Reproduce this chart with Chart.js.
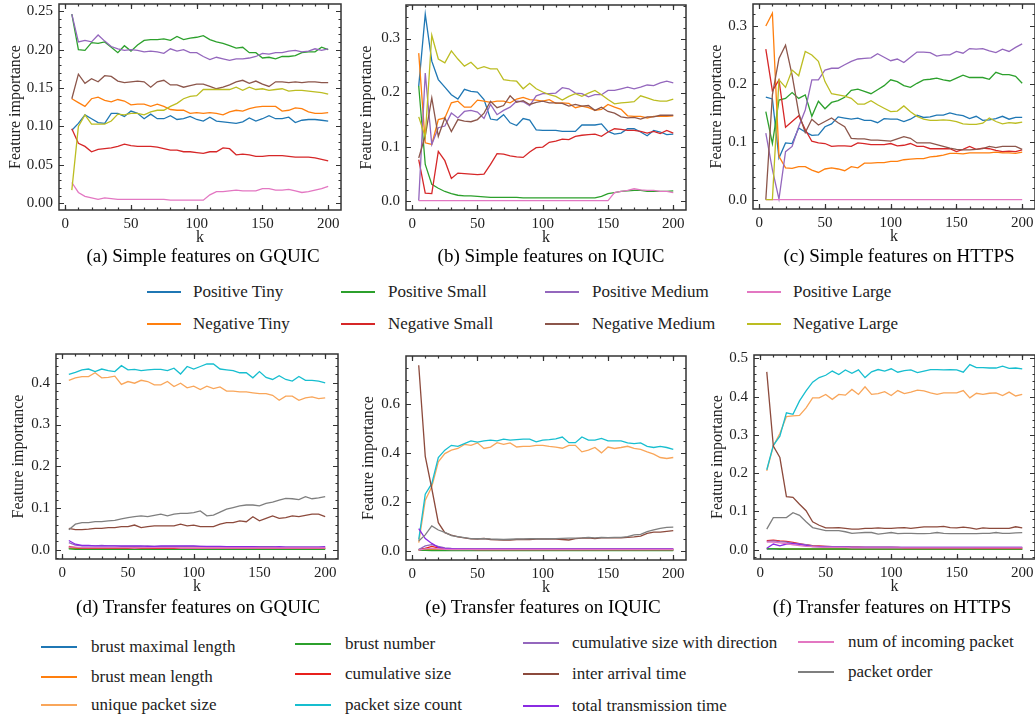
<!DOCTYPE html>
<html>
<head>
<meta charset="utf-8">
<script src="https://cdn.jsdelivr.net/npm/chart.js"></script>
<style>
  body { margin: 0; background: #fff; width: 1035px; height: 719px; position: relative; overflow: hidden;
         font-family: "Liberation Serif", "Times New Roman", serif; color: #111; }
  canvas { position: absolute; }
  .cap { position: absolute; font-size: 19px; white-space: nowrap; transform: translate(-50%, -50%); color: #000; }
  .leg { position: absolute; font-size: 17px; line-height: 20px; white-space: nowrap; color: #222; }
  .sw { position: absolute; height: 2px; }
</style>
</head>
<body>
<script>
// k values (x axis)
const k = [5,10,15,20,25,30,35,40,45,50,55,60,65,70,75,80,85,90,95,100,
           105,110,115,120,125,130,135,140,145,150,155,160,165,170,175,180,185,190,195,200];
const xTicks = [0, 50, 100, 150, 200];
const yTicksA = [0, 0.05, 0.10, 0.15, 0.20, 0.25];
const yTicksB = [0, 0.1, 0.2, 0.3];
const yTicksC = [0, 0.1, 0.2, 0.3];
const yTicksD = [0, 0.1, 0.2, 0.3, 0.4];
const yTicksE = [0, 0.2, 0.4, 0.6];
const yTicksF = [0, 0.1, 0.2, 0.3, 0.4, 0.5];

const simpleNames = ['Positive Tiny', 'Negative Tiny', 'Positive Small', 'Negative Small',
                     'Positive Medium', 'Negative Medium', 'Positive Large', 'Negative Large'];
const simpleColors = ['#1f77b4', '#ff7f0e', '#2ca02c', '#d62728', '#9467bd', '#8c564b', '#e377c2', '#bcbd22'];
const transferNames = ['brust maximal length', 'brust mean length', 'unique packet size',
                       'brust number', 'cumulative size', 'packet size count',
                       'cumulative size with direction', 'inter arrival time', 'total transmission time',
                       'num of incoming packet', 'packet order'];
const transferColors = ['#1f77b4', '#ff7f0e', '#f9a65a', '#2ca02c', '#e8201c', '#17becf',
                        '#9467bd', '#8c4a3c', '#8a2be2', '#e377c2', '#7f7f7f'];

// (a) simple features, GQUIC
const gqPT = [0.095,0.104,0.115,0.110,0.105,0.104,0.117,0.117,0.113,0.120,0.117,0.110,0.116,0.110,0.110,0.114,0.109,0.110,0.113,0.109,0.107,0.112,0.107,0.106,0.105,0.104,0.106,0.111,0.107,0.110,0.114,0.110,0.110,0.112,0.105,0.108,0.109,0.109,0.108,0.107];
const gqNT = [0.136,0.131,0.126,0.136,0.138,0.134,0.132,0.135,0.133,0.128,0.129,0.129,0.126,0.129,0.126,0.122,0.121,0.121,0.117,0.118,0.117,0.118,0.117,0.115,0.119,0.121,0.120,0.123,0.125,0.126,0.126,0.126,0.120,0.121,0.124,0.123,0.119,0.117,0.117,0.118];
const gqPS = [0.246,0.200,0.199,0.209,0.208,0.210,0.203,0.196,0.205,0.198,0.206,0.212,0.213,0.213,0.214,0.212,0.217,0.213,0.215,0.216,0.218,0.213,0.210,0.208,0.205,0.202,0.203,0.196,0.196,0.189,0.190,0.188,0.191,0.191,0.192,0.196,0.197,0.197,0.203,0.200];
const gqNS = [0.097,0.078,0.074,0.067,0.070,0.071,0.072,0.074,0.077,0.075,0.074,0.074,0.074,0.073,0.071,0.069,0.069,0.067,0.067,0.066,0.065,0.067,0.067,0.072,0.071,0.063,0.064,0.063,0.061,0.061,0.062,0.062,0.062,0.061,0.060,0.060,0.060,0.059,0.057,0.055];
const gqPM = [0.246,0.210,0.212,0.210,0.219,0.211,0.204,0.201,0.199,0.200,0.199,0.197,0.198,0.197,0.195,0.201,0.198,0.200,0.196,0.196,0.191,0.187,0.190,0.188,0.186,0.188,0.188,0.189,0.191,0.195,0.194,0.196,0.196,0.198,0.199,0.197,0.198,0.201,0.199,0.201];
const gqNM = [0.136,0.168,0.156,0.162,0.158,0.166,0.165,0.159,0.157,0.158,0.159,0.158,0.151,0.158,0.160,0.154,0.154,0.151,0.153,0.155,0.155,0.152,0.149,0.151,0.154,0.158,0.160,0.156,0.159,0.155,0.152,0.158,0.158,0.157,0.158,0.157,0.158,0.158,0.157,0.157];
const gqPL = [0.027,0.014,0.009,0.007,0.005,0.007,0.006,0.005,0.005,0.005,0.005,0.005,0.005,0.005,0.005,0.004,0.004,0.004,0.004,0.004,0.004,0.011,0.015,0.015,0.016,0.017,0.016,0.016,0.016,0.019,0.019,0.017,0.017,0.018,0.016,0.014,0.015,0.017,0.019,0.022];
const gqNL = [0.017,0.100,0.115,0.103,0.103,0.103,0.107,0.116,0.115,0.117,0.117,0.115,0.119,0.121,0.121,0.126,0.130,0.136,0.139,0.140,0.148,0.148,0.148,0.148,0.148,0.151,0.147,0.151,0.148,0.149,0.147,0.148,0.149,0.146,0.147,0.147,0.146,0.145,0.144,0.142];

// (b) simple features, IQUIC
const iqPT = [0.212,0.345,0.258,0.224,0.210,0.196,0.188,0.206,0.202,0.201,0.187,0.151,0.149,0.159,0.144,0.139,0.152,0.149,0.131,0.130,0.130,0.130,0.128,0.128,0.128,0.140,0.140,0.140,0.142,0.128,0.123,0.125,0.133,0.133,0.127,0.120,0.130,0.127,0.122,0.123];
const iqNT = [0.273,0.107,0.104,0.150,0.153,0.181,0.184,0.173,0.173,0.186,0.184,0.182,0.184,0.184,0.181,0.188,0.191,0.187,0.186,0.184,0.187,0.180,0.181,0.180,0.172,0.175,0.172,0.167,0.169,0.178,0.173,0.169,0.157,0.156,0.156,0.153,0.156,0.156,0.156,0.157];
const iqPS = [0.212,0.067,0.030,0.023,0.017,0.013,0.010,0.009,0.009,0.008,0.007,0.006,0.006,0.006,0.006,0.006,0.005,0.005,0.005,0.005,0.005,0.005,0.005,0.005,0.005,0.005,0.005,0.005,0.008,0.013,0.015,0.017,0.018,0.019,0.019,0.017,0.017,0.017,0.017,0.018];
const iqNS = [0.076,0.014,0.013,0.091,0.074,0.041,0.051,0.050,0.049,0.048,0.049,0.067,0.087,0.086,0.083,0.081,0.080,0.090,0.098,0.099,0.108,0.110,0.114,0.113,0.119,0.121,0.122,0.123,0.119,0.127,0.133,0.132,0.130,0.130,0.128,0.125,0.128,0.124,0.130,0.125];
const iqPM = [0.000,0.236,0.104,0.135,0.138,0.162,0.153,0.165,0.167,0.164,0.152,0.178,0.159,0.167,0.173,0.184,0.183,0.176,0.194,0.198,0.198,0.199,0.209,0.207,0.199,0.198,0.192,0.196,0.196,0.204,0.204,0.207,0.210,0.207,0.210,0.214,0.213,0.218,0.221,0.218];
const iqNM = [0.079,0.120,0.190,0.119,0.153,0.128,0.150,0.147,0.146,0.150,0.162,0.184,0.172,0.176,0.194,0.182,0.185,0.178,0.182,0.184,0.181,0.181,0.180,0.175,0.178,0.175,0.176,0.167,0.173,0.165,0.162,0.155,0.153,0.154,0.151,0.155,0.155,0.158,0.158,0.158];
const iqPL = [0,0,0,0,0,0,0,0,0,0,0,0,0,0,0,0,0,0,0,0,0,0,0,0,0,0,0,0,0,0,0.015,0.017,0.019,0.022,0.020,0.019,0.019,0.017,0.017,0.015];
const iqNL = [0.155,0.118,0.306,0.262,0.255,0.277,0.262,0.249,0.256,0.244,0.248,0.244,0.244,0.224,0.222,0.221,0.207,0.217,0.207,0.201,0.196,0.193,0.186,0.193,0.198,0.193,0.199,0.204,0.196,0.187,0.179,0.181,0.182,0.183,0.194,0.190,0.186,0.184,0.184,0.188];

// (c) simple features, HTTPS
const htPT = [0.177,0.174,0.072,0.098,0.097,0.124,0.117,0.111,0.112,0.126,0.131,0.143,0.141,0.139,0.141,0.137,0.137,0.133,0.140,0.139,0.139,0.135,0.139,0.146,0.142,0.143,0.146,0.146,0.150,0.147,0.145,0.140,0.144,0.137,0.138,0.140,0.144,0.139,0.142,0.142];
const htNT = [0.300,0.322,0.075,0.055,0.054,0.057,0.057,0.051,0.047,0.053,0.055,0.053,0.050,0.057,0.055,0.063,0.063,0.064,0.064,0.066,0.066,0.069,0.070,0.071,0.071,0.074,0.075,0.077,0.080,0.080,0.079,0.081,0.081,0.081,0.081,0.082,0.081,0.081,0.080,0.082];
const htPS = [0.152,0.097,0.172,0.175,0.185,0.175,0.181,0.144,0.170,0.157,0.168,0.171,0.177,0.189,0.191,0.187,0.183,0.190,0.197,0.207,0.204,0.197,0.194,0.201,0.207,0.208,0.210,0.207,0.205,0.210,0.215,0.211,0.211,0.211,0.208,0.220,0.216,0.216,0.213,0.201];
const htNS = [0.260,0.188,0.207,0.125,0.135,0.145,0.121,0.101,0.098,0.097,0.092,0.093,0.093,0.092,0.098,0.097,0.095,0.095,0.095,0.097,0.093,0.094,0.097,0.092,0.092,0.088,0.088,0.088,0.088,0.083,0.087,0.092,0.087,0.089,0.088,0.085,0.083,0.084,0.083,0.086];
const htPM = [0.115,0.052,0.001,0.083,0.092,0.126,0.155,0.207,0.207,0.224,0.227,0.227,0.233,0.239,0.243,0.244,0.245,0.252,0.246,0.240,0.243,0.237,0.246,0.255,0.255,0.254,0.248,0.250,0.250,0.256,0.253,0.261,0.260,0.261,0.257,0.254,0.260,0.256,0.263,0.269];
const htNM = [0.000,0.181,0.244,0.267,0.215,0.150,0.116,0.139,0.129,0.135,0.141,0.133,0.126,0.106,0.105,0.105,0.103,0.103,0.102,0.101,0.105,0.109,0.106,0.098,0.098,0.098,0.095,0.092,0.089,0.087,0.086,0.086,0.087,0.088,0.092,0.090,0.092,0.092,0.092,0.087];
const htPL = [0,0,0,0,0,0,0,0,0,0,0,0,0,0,0,0,0,0,0,0,0,0,0,0,0,0,0,0,0,0,0,0,0,0,0,0,0,0,0,0];
const htNL = [0.000,0.000,0.207,0.194,0.224,0.214,0.256,0.250,0.239,0.204,0.183,0.181,0.179,0.175,0.165,0.165,0.171,0.164,0.158,0.152,0.153,0.162,0.152,0.144,0.139,0.137,0.137,0.138,0.137,0.135,0.131,0.130,0.130,0.132,0.141,0.135,0.131,0.133,0.132,0.134];

// (d) transfer features, GQUIC
const gqtBML = [0.004,0.003,0.003,0.003,0.002,0.002,0.002,0.002,0.002,0.002,0.002,0.002,0.002,0.002,0.002,0.002,0.002,0.002,0.002,0.002,0.002,0.002,0.002,0.002,0.002,0.002,0.002,0.002,0.002,0.002,0.002,0.002,0.002,0.002,0.002,0.002,0.002,0.002,0.002,0.002];
const gqtBMN = [0.004,0.003,0.003,0.003,0.003,0.003,0.003,0.003,0.003,0.003,0.003,0.003,0.003,0.003,0.003,0.003,0.003,0.003,0.003,0.003,0.003,0.003,0.003,0.003,0.003,0.003,0.003,0.003,0.003,0.003,0.003,0.003,0.003,0.003,0.003,0.003,0.003,0.003,0.003,0.003];
const gqtUPS = [0.406,0.412,0.415,0.415,0.424,0.412,0.413,0.416,0.396,0.403,0.399,0.406,0.403,0.395,0.395,0.403,0.391,0.399,0.388,0.392,0.384,0.392,0.386,0.390,0.380,0.380,0.378,0.378,0.376,0.374,0.374,0.370,0.358,0.368,0.368,0.358,0.364,0.366,0.362,0.364];
const gqtBN = [0.002,0.001,0.001,0.001,0.001,0.001,0.001,0.001,0.001,0.001,0.001,0.001,0.001,0.001,0.001,0.001,0.001,0.001,0.001,0.001,0.001,0.001,0.001,0.001,0.001,0.001,0.001,0.001,0.001,0.001,0.001,0.001,0.001,0.001,0.001,0.001,0.001,0.001,0.001,0.001];
const gqtCS = [0.008,0.005,0.004,0.004,0.004,0.004,0.004,0.004,0.004,0.004,0.004,0.004,0.004,0.003,0.003,0.003,0.003,0.003,0.003,0.003,0.003,0.003,0.003,0.003,0.003,0.003,0.003,0.003,0.003,0.003,0.003,0.003,0.003,0.003,0.003,0.003,0.003,0.003,0.003,0.003];
const gqtPSC = [0.420,0.425,0.431,0.433,0.427,0.433,0.429,0.427,0.441,0.431,0.432,0.429,0.431,0.432,0.432,0.429,0.435,0.421,0.439,0.433,0.439,0.445,0.445,0.433,0.431,0.429,0.424,0.424,0.412,0.427,0.413,0.408,0.417,0.408,0.404,0.415,0.406,0.406,0.404,0.400];
const gqtCSD = [0.017,0.011,0.009,0.009,0.009,0.010,0.009,0.009,0.008,0.008,0.008,0.008,0.009,0.008,0.008,0.008,0.008,0.008,0.008,0.008,0.008,0.007,0.007,0.007,0.007,0.007,0.007,0.007,0.007,0.007,0.007,0.007,0.006,0.006,0.006,0.006,0.006,0.006,0.006,0.006];
const gqtIAT = [0.051,0.048,0.048,0.049,0.051,0.051,0.053,0.053,0.055,0.055,0.059,0.053,0.055,0.057,0.057,0.057,0.057,0.061,0.057,0.059,0.055,0.055,0.055,0.061,0.065,0.065,0.069,0.067,0.079,0.069,0.075,0.081,0.075,0.077,0.081,0.079,0.082,0.085,0.085,0.079];
const gqtTTT = [0.022,0.013,0.010,0.010,0.009,0.009,0.009,0.009,0.009,0.009,0.009,0.009,0.008,0.008,0.009,0.009,0.009,0.009,0.009,0.009,0.008,0.008,0.008,0.008,0.007,0.007,0.007,0.007,0.007,0.006,0.006,0.006,0.007,0.006,0.006,0.006,0.006,0.006,0.006,0.007];
const gqtNIP = [0.006,0.006,0.005,0.005,0.005,0.005,0.005,0.005,0.005,0.005,0.004,0.005,0.005,0.005,0.005,0.005,0.005,0.004,0.004,0.004,0.004,0.004,0.004,0.004,0.004,0.004,0.004,0.004,0.004,0.004,0.004,0.004,0.004,0.004,0.004,0.004,0.004,0.004,0.004,0.004];
const gqtPO = [0.048,0.061,0.065,0.065,0.067,0.067,0.069,0.070,0.074,0.077,0.079,0.081,0.079,0.082,0.085,0.081,0.085,0.087,0.087,0.089,0.093,0.081,0.083,0.090,0.097,0.101,0.105,0.107,0.107,0.105,0.111,0.114,0.119,0.123,0.122,0.120,0.127,0.122,0.124,0.127];

// (e) transfer features, IQUIC
const iqtBML = [0.005,0.010,0.006,0.004,0.003,0.003,0.002,0.002,0.002,0.002,0.002,0.002,0.002,0.002,0.002,0.002,0.002,0.002,0.002,0.002,0.002,0.002,0.002,0.002,0.002,0.002,0.002,0.002,0.002,0.002,0.002,0.002,0.002,0.002,0.002,0.002,0.002,0.002,0.002,0.002];
const iqtBMN = [0.004,0.006,0.005,0.004,0.003,0.003,0.003,0.003,0.003,0.003,0.003,0.003,0.003,0.003,0.003,0.003,0.003,0.003,0.003,0.003,0.003,0.003,0.003,0.003,0.003,0.003,0.003,0.003,0.003,0.003,0.003,0.003,0.003,0.003,0.003,0.003,0.003,0.003,0.003,0.003];
const iqtUPS = [0.033,0.207,0.262,0.364,0.398,0.412,0.419,0.436,0.432,0.442,0.419,0.425,0.443,0.436,0.442,0.425,0.428,0.428,0.432,0.432,0.428,0.425,0.420,0.432,0.432,0.405,0.412,0.423,0.401,0.425,0.419,0.423,0.428,0.419,0.415,0.405,0.396,0.382,0.378,0.382];
const iqtBN = [0.002,0.002,0.001,0.001,0.001,0.001,0.001,0.001,0.001,0.001,0.001,0.001,0.001,0.001,0.001,0.001,0.001,0.001,0.001,0.001,0.001,0.001,0.001,0.001,0.001,0.001,0.001,0.001,0.001,0.001,0.001,0.001,0.001,0.001,0.001,0.001,0.001,0.001,0.001,0.001];
const iqtCS = [0.003,0.010,0.018,0.012,0.008,0.007,0.006,0.006,0.006,0.005,0.005,0.005,0.005,0.005,0.005,0.005,0.005,0.005,0.005,0.005,0.005,0.005,0.005,0.005,0.005,0.005,0.005,0.005,0.005,0.005,0.005,0.005,0.005,0.005,0.005,0.005,0.005,0.005,0.005,0.005];
const iqtPSC = [0.046,0.232,0.275,0.382,0.412,0.432,0.428,0.439,0.450,0.445,0.450,0.453,0.450,0.457,0.453,0.455,0.457,0.457,0.446,0.453,0.455,0.458,0.466,0.443,0.443,0.466,0.453,0.453,0.460,0.450,0.450,0.450,0.442,0.439,0.442,0.428,0.423,0.428,0.423,0.415];
const iqtCSD = [0.005,0.020,0.025,0.018,0.012,0.010,0.009,0.009,0.008,0.008,0.008,0.008,0.008,0.008,0.008,0.007,0.007,0.007,0.007,0.007,0.007,0.007,0.007,0.007,0.007,0.007,0.007,0.007,0.007,0.007,0.007,0.007,0.007,0.007,0.007,0.007,0.007,0.007,0.007,0.007];
const iqtIAT = [0.760,0.387,0.255,0.115,0.074,0.064,0.057,0.053,0.049,0.048,0.050,0.046,0.045,0.044,0.044,0.046,0.046,0.046,0.048,0.048,0.048,0.048,0.046,0.044,0.050,0.052,0.053,0.050,0.053,0.053,0.053,0.053,0.055,0.057,0.060,0.071,0.076,0.076,0.079,0.082];
const iqtTTT = [0.091,0.050,0.030,0.014,0.010,0.009,0.008,0.008,0.008,0.008,0.008,0.008,0.008,0.008,0.008,0.008,0.008,0.008,0.008,0.008,0.008,0.008,0.008,0.008,0.008,0.008,0.008,0.008,0.008,0.008,0.008,0.008,0.008,0.008,0.008,0.008,0.008,0.008,0.008,0.008];
const iqtNIP = [0.002,0.008,0.010,0.008,0.006,0.005,0.005,0.005,0.005,0.005,0.005,0.005,0.005,0.005,0.005,0.005,0.005,0.005,0.005,0.005,0.005,0.005,0.005,0.005,0.005,0.005,0.005,0.005,0.005,0.005,0.005,0.005,0.005,0.005,0.005,0.005,0.005,0.005,0.005,0.005];
const iqtPO = [0.040,0.065,0.102,0.085,0.075,0.062,0.058,0.054,0.050,0.049,0.050,0.048,0.047,0.046,0.047,0.048,0.048,0.049,0.049,0.048,0.049,0.050,0.051,0.052,0.052,0.053,0.055,0.053,0.055,0.054,0.055,0.055,0.058,0.065,0.067,0.078,0.085,0.092,0.096,0.097];

// (f) transfer features, HTTPS
const httBML = [0.002,0.002,0.001,0.001,0.001,0.001,0.001,0.001,0.001,0.001,0.001,0.001,0.001,0.001,0.001,0.001,0.001,0.001,0.001,0.001,0.001,0.001,0.001,0.001,0.001,0.001,0.001,0.001,0.001,0.001,0.001,0.001,0.001,0.001,0.001,0.001,0.001,0.001,0.001,0.001];
const httBMN = [0.003,0.003,0.003,0.002,0.002,0.002,0.002,0.002,0.002,0.002,0.002,0.002,0.002,0.002,0.002,0.002,0.002,0.002,0.002,0.002,0.002,0.002,0.002,0.002,0.002,0.002,0.002,0.002,0.002,0.002,0.002,0.002,0.002,0.002,0.002,0.002,0.002,0.002,0.002,0.002];
const httUPS = [0.206,0.271,0.304,0.348,0.350,0.351,0.371,0.397,0.397,0.406,0.393,0.406,0.404,0.419,0.406,0.426,0.406,0.408,0.413,0.403,0.416,0.408,0.412,0.417,0.415,0.410,0.406,0.410,0.410,0.410,0.416,0.397,0.409,0.406,0.409,0.410,0.403,0.412,0.402,0.406];
const httBN = [0.003,0.003,0.002,0.002,0.002,0.002,0.002,0.002,0.002,0.002,0.002,0.002,0.002,0.002,0.002,0.002,0.002,0.002,0.002,0.002,0.002,0.002,0.002,0.002,0.002,0.002,0.002,0.002,0.002,0.002,0.002,0.002,0.002,0.002,0.002,0.002,0.002,0.002,0.002,0.002];
const httCS = [0.024,0.025,0.023,0.022,0.019,0.016,0.013,0.011,0.010,0.009,0.008,0.008,0.007,0.007,0.007,0.006,0.006,0.006,0.006,0.006,0.006,0.005,0.005,0.005,0.005,0.005,0.005,0.005,0.005,0.005,0.005,0.005,0.004,0.004,0.004,0.004,0.004,0.004,0.004,0.004];
const httPSC = [0.209,0.273,0.297,0.358,0.354,0.389,0.415,0.438,0.450,0.456,0.467,0.458,0.470,0.461,0.470,0.450,0.465,0.471,0.467,0.473,0.464,0.468,0.470,0.463,0.467,0.471,0.471,0.470,0.471,0.470,0.464,0.484,0.476,0.476,0.475,0.475,0.480,0.474,0.475,0.473];
const httCSD = [0.022,0.023,0.021,0.020,0.017,0.015,0.013,0.010,0.009,0.009,0.008,0.008,0.008,0.007,0.007,0.007,0.007,0.007,0.007,0.007,0.006,0.006,0.006,0.006,0.006,0.006,0.006,0.006,0.006,0.006,0.006,0.006,0.006,0.006,0.006,0.006,0.006,0.006,0.006,0.006];
const httIAT = [0.465,0.271,0.241,0.139,0.137,0.119,0.102,0.073,0.064,0.057,0.057,0.058,0.056,0.054,0.054,0.056,0.056,0.057,0.056,0.056,0.057,0.058,0.056,0.058,0.060,0.060,0.060,0.061,0.058,0.057,0.059,0.057,0.054,0.057,0.056,0.056,0.056,0.056,0.060,0.057];
const httTTT = [0.004,0.015,0.010,0.015,0.016,0.014,0.011,0.008,0.008,0.007,0.007,0.007,0.007,0.006,0.006,0.006,0.006,0.006,0.006,0.006,0.006,0.006,0.006,0.006,0.006,0.006,0.006,0.006,0.006,0.006,0.006,0.006,0.006,0.006,0.006,0.006,0.006,0.006,0.006,0.006];
const httNIP = [0.020,0.020,0.018,0.016,0.013,0.011,0.009,0.008,0.007,0.006,0.006,0.006,0.006,0.005,0.005,0.005,0.005,0.005,0.005,0.005,0.005,0.005,0.005,0.005,0.005,0.005,0.005,0.005,0.005,0.005,0.005,0.005,0.005,0.005,0.005,0.005,0.005,0.005,0.005,0.005];
const httPO = [0.054,0.084,0.084,0.084,0.097,0.090,0.073,0.058,0.054,0.050,0.050,0.050,0.047,0.043,0.044,0.045,0.045,0.041,0.043,0.045,0.042,0.043,0.043,0.042,0.042,0.043,0.045,0.043,0.042,0.042,0.042,0.042,0.042,0.043,0.043,0.045,0.043,0.043,0.044,0.045];

const FONT = '"Liberation Serif", "Times New Roman", serif';

// frame + inward ticks on all four sides
const frameTicks = {
  id: 'frameTicks',
  afterDraw(chart, args, opts) {
    const { ctx, chartArea: a, scales: { x, y } } = chart;
    ctx.save();
    ctx.strokeStyle = '#333';
    ctx.lineWidth = 1.2;
    const minors = (s, step) => {
      const out = [];
      for (let i = Math.ceil(s.min / step - 1e-9); i * step <= s.max + 1e-9; i++) out.push(i * step);
      return out;
    };
    const drawX = (v, len) => {
      const px = Math.round(x.getPixelForValue(v)) + 0.5;
      ctx.beginPath();
      ctx.moveTo(px, a.bottom); ctx.lineTo(px, a.bottom - len);
      ctx.moveTo(px, a.top); ctx.lineTo(px, a.top + len);
      ctx.stroke();
    };
    const drawY = (v, len) => {
      const py = Math.round(y.getPixelForValue(v)) + 0.5;
      ctx.beginPath();
      ctx.moveTo(a.left, py); ctx.lineTo(a.left + len, py);
      ctx.moveTo(a.right, py); ctx.lineTo(a.right - len, py);
      ctx.stroke();
    };
    minors(x, opts.minorX).forEach(v => drawX(v, 2.5));
    x.ticks.forEach(t => drawX(t.value, 5));
    minors(y, opts.minorY).forEach(v => drawY(v, 2.5));
    y.ticks.forEach(t => drawY(t.value, 5));
    ctx.lineWidth = 1.5;
    ctx.strokeRect(a.left, a.top, a.right - a.left, a.bottom - a.top);
    ctx.restore();
  }
};

function makeChart(p) {
  // padT must be >= the y-axis label overflow (about 15px), otherwise Chart.js pushes the area down
  const padL = 60, padT = 20, padR = 14, padB = 40;
  const cv = document.createElement('canvas');
  cv.width = (p.r - p.l) + padL + padR;
  cv.height = (p.b - p.t) + padT + padB;
  cv.style.left = (p.l - padL) + 'px';
  cv.style.top = (p.t - padT) + 'px';
  document.body.appendChild(cv);

  new Chart(cv, {
    type: 'line',
    data: {
      datasets: p.series.map((s, i) => ({
        label: p.names[i],
        data: k.map((kv, j) => ({ x: kv, y: s[j] })),
        borderColor: p.colors[i],
        borderWidth: 1.3,
        pointRadius: 0,
        tension: 0,
        fill: false,
        order: -i
      }))
    },
    options: {
      responsive: false,
      animation: false,
      devicePixelRatio: 1,
      layout: { padding: { top: padT, right: padR, left: 0, bottom: 0 } },
      plugins: {
        legend: { display: false },
        tooltip: { enabled: false },
        frameTicks: { minorX: 10, minorY: p.minor }
      },
      scales: {
        x: {
          type: 'linear', min: -4.75, max: 209.75,
          grid: { display: false, drawTicks: false }, border: { display: false },
          afterBuildTicks: s => { s.ticks = xTicks.map(v => ({ value: v })); },
          afterFit: s => { s.height = padB; },
          ticks: { padding: 5, color: '#222', maxRotation: 0, font: { family: FONT, size: 15 },
                   callback: v => String(v) },
          title: { display: true, text: 'k', color: '#222', font: { family: FONT, size: 16, lineHeight: 1.2 },
                   padding: { top: 0, bottom: 2.4 } }
        },
        y: {
          type: 'linear', min: p.ymin, max: p.ymax,
          grid: { display: false, drawTicks: false }, border: { display: false },
          afterBuildTicks: s => { s.ticks = p.yTicks.map(v => ({ value: v })); },
          afterFit: s => { s.width = padL; },
          ticks: { padding: 6, color: '#222', font: { family: FONT, size: 15 },
                   callback: v => v.toFixed(p.dec) },
          title: { display: true, text: 'Feature importance', color: '#222',
                   font: { family: FONT, size: 16, lineHeight: 1.2 },
                   padding: { top: padL - p.titleOff - 9.6, bottom: 0 } }
        }
      }
    },
    plugins: [frameTicks]
  });
}

const panels = [
  { l: 59, t: 4, r: 341, b: 210, ymin: -0.0088, ymax: 0.2593, yTicks: yTicksA, dec: 2, minor: 0.01, titleOff: 43,
    series: [gqPT, gqNT, gqPS, gqNS, gqPM, gqNM, gqPL, gqNL], names: simpleNames, colors: simpleColors },
  { l: 406, t: 5, r: 686, b: 210, ymin: -0.0173, ymax: 0.362, yTicks: yTicksB, dec: 1, minor: 0.02, titleOff: 39,
    series: [iqPT, iqNT, iqPS, iqNS, iqPM, iqNM, iqPL, iqNL], names: simpleNames, colors: simpleColors },
  { l: 753, t: 4, r: 1035, b: 209, ymin: -0.0161, ymax: 0.338, yTicks: yTicksC, dec: 1, minor: 0.02, titleOff: 36,
    series: [htPT, htNT, htPS, htNS, htPM, htNM, htPL, htNL], names: simpleNames, colors: simpleColors },
  { l: 56, t: 354, r: 338, b: 559, ymin: -0.0224, ymax: 0.469, yTicks: yTicksD, dec: 1, minor: 0.02, titleOff: 37,
    series: [gqtBML, gqtBMN, gqtUPS, gqtBN, gqtCS, gqtPSC, gqtCSD, gqtIAT, gqtTTT, gqtNIP, gqtPO],
    names: transferNames, colors: transferColors },
  { l: 406, t: 356, r: 686, b: 560, ymin: -0.038, ymax: 0.798, yTicks: yTicksE, dec: 1, minor: 0.05, titleOff: 37,
    series: [iqtBML, iqtBMN, iqtUPS, iqtBN, iqtCS, iqtPSC, iqtCSD, iqtIAT, iqtTTT, iqtNIP, iqtPO],
    names: transferNames, colors: transferColors },
  { l: 754, t: 355, r: 1035, b: 559, ymin: -0.0242, ymax: 0.509, yTicks: yTicksF, dec: 1, minor: 0.02, titleOff: 36,
    series: [httBML, httBMN, httUPS, httBN, httCS, httPSC, httCSD, httIAT, httTTT, httNIP, httPO],
    names: transferNames, colors: transferColors }
];
panels.forEach(makeChart);

// captions
const captions = [
  ['(a) Simple features on GQUIC', 203, 256], ['(b) Simple features on IQUIC', 551, 256],
  ['(c) Simple features on HTTPS', 899, 256], ['(d) Transfer features on GQUIC', 198, 607],
  ['(e) Transfer features on IQUIC', 543, 607], ['(f) Transfer features on HTTPS', 892, 607]
];
captions.forEach(([txt, cx, cy]) => {
  const d = document.createElement('div');
  d.className = 'cap'; d.textContent = txt;
  d.style.left = cx + 'px'; d.style.top = cy + 'px';
  document.body.appendChild(d);
});

// legends (column-major, like matplotlib ncol)
function legendItem(name, color, swX, swW, txtX, y) {
  const s = document.createElement('div');
  s.className = 'sw';
  s.style.left = swX + 'px'; s.style.top = (y - 1) + 'px'; s.style.width = swW + 'px'; s.style.background = color;
  document.body.appendChild(s);
  const t = document.createElement('div');
  t.className = 'leg'; t.textContent = name;
  t.style.left = txtX + 'px'; t.style.top = (y - 10) + 'px';
  document.body.appendChild(t);
}
const topSwX = [147, 341, 545, 747], topTxtX = [193, 388, 592, 793], topRowY = [292, 324];
simpleNames.forEach((n, i) => {
  const c = Math.floor(i / 2), r = i % 2;
  legendItem(n, simpleColors[i], topSwX[c], 34, topTxtX[c], topRowY[r]);
});
const botSwX = [41, 295, 523, 798], botTxtX = [91, 345, 572, 848];
const botRowY = [[647, 677, 705], [644, 674, 705], [643, 674, 706], [642, 672]];
transferNames.forEach((n, i) => {
  const c = Math.floor(i / 3), r = i % 3;
  legendItem(n, transferColors[i], botSwX[c], 36, botTxtX[c], botRowY[c][r]);
});
</script>
</body>
</html>
